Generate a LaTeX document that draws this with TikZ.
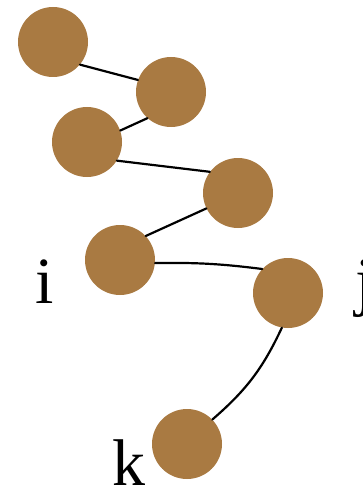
\documentclass[tikz,border=0pt]{standalone}
\usepackage{fontspec}
\setmainfont{Liberation Serif}
\definecolor{beadbrown}{RGB}{169,122,66}
\begin{document}
\begin{tikzpicture}[x=1pt,y=1pt,line join=round,line cap=round,
  bead/.style={circle,fill=beadbrown,minimum size=70pt,inner sep=0pt},
  lbl/.style={inner sep=0pt,anchor=base,font=\fontsize{66}{66}\selectfont}]
\useasboundingbox (0,0) rectangle (363,-492);
\foreach \n/\x/\y in {1/53/42,2/171/92,3/87/142,4/238/193,5/120/260,6/288/293,7/187/444}
\node[bead] (b\n) at (\x,-\y) {};
\node[lbl] (li) at (45,-303) {i};
\node[lbl,anchor=base west] (lj) at (355,-303) {j};
\node[lbl] (lk) at (129,-485) {k};
\draw[line width=2.2pt] (b1.-40)--(b2.160) (b2.228)--(b3.19) (b3.-32)--(b4.143)
  (b4.206)--(b5.43);
\draw[line width=2.2pt] (b5.-5) to[bend left=4] (b6.137);
\draw[line width=2.2pt] (b6.-100) to[bend left=12] (b7.44);
\end{tikzpicture}
\end{document}
